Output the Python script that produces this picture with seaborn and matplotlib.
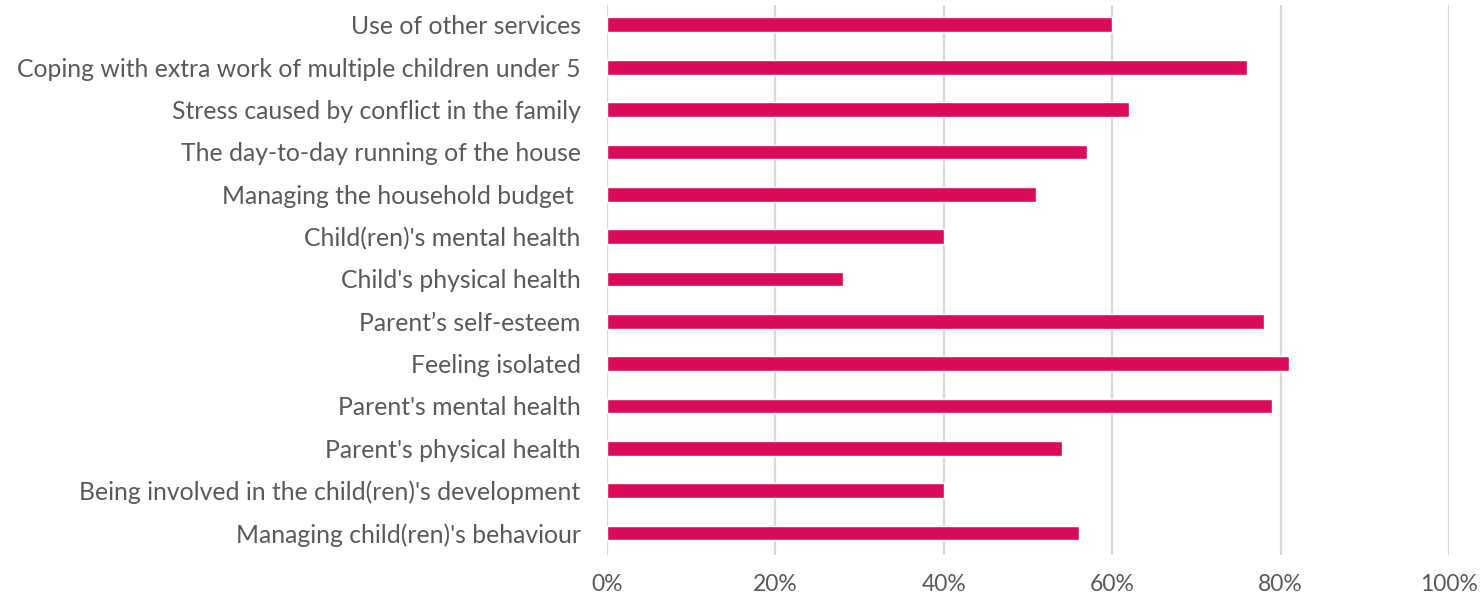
import matplotlib
matplotlib.use("Agg")
import matplotlib.pyplot as plt
import seaborn as sns
import pandas as pd
from matplotlib.ticker import PercentFormatter

categories = [
    "Use of other services",
    "Coping with extra work of multiple children under 5",
    "Stress caused by conflict in the family",
    "The day-to-day running of the house",
    "Managing the household budget ",
    "Child(ren)'s mental health",
    "Child's physical health",
    "Parent\u2019s self-esteem",
    "Feeling isolated",
    "Parent's mental health",
    "Parent's physical health",
    "Being involved in the child(ren)'s development",
    "Managing child(ren)'s behaviour",
]
values = [60, 76, 62, 57, 51, 40, 28, 78, 81, 79, 54, 40, 56]
xticks = [0, 20, 40, 60, 80, 100]

df = pd.DataFrame({"category": categories, "value": values})

sns.set_style("white")
plt.rcParams["font.family"] = ["Lato", "DejaVu Sans"]

fig = plt.figure(figsize=(14.81, 6.03), dpi=100)
ax = fig.add_axes([607 / 1481, 1 - 555 / 603, (1449 - 607) / 1481, 550 / 603])

sns.barplot(data=df, x="value", y="category", orient="h", color="#D90A59",
            width=0.35, ax=ax, saturation=1)

ax.set_xlim(0, 100)
ax.set_ylim(len(categories) - 1 + 0.52, -0.47)
ax.set_xticks(xticks)
ax.xaxis.set_major_formatter(PercentFormatter(decimals=0))
ax.grid(axis="x", color="#d9d9d9", linewidth=1.6)
ax.set_axisbelow(True)
for s in ax.spines.values():
    s.set_visible(False)
ax.set_xlabel("")
ax.set_ylabel("")
ax.tick_params(axis="y", length=0, pad=19, labelsize=17.8, labelcolor="#595959")
ax.tick_params(axis="x", length=0, pad=14, labelsize=16.5, labelcolor="#595959")

fig.savefig("out.png", dpi=100)
